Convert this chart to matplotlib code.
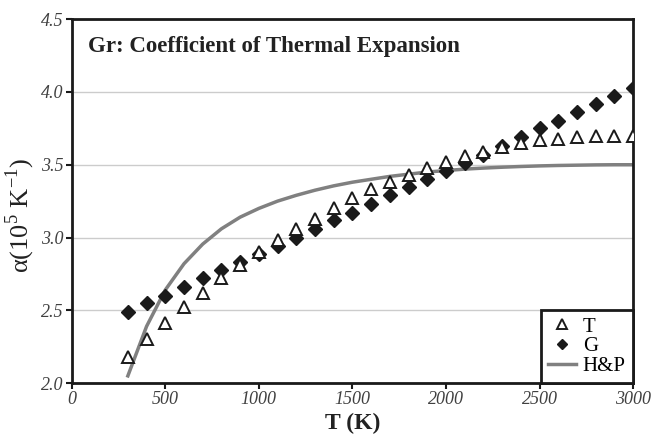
import matplotlib
matplotlib.use("Agg")
import matplotlib.pyplot as plt

# temperature grid (K)
temps = [300, 400, 500, 600, 700, 800, 900, 1000, 1100, 1200, 1300, 1400, 1500, 1600,
         1700, 1800, 1900, 2000, 2100, 2200, 2300, 2400, 2500, 2600, 2700, 2800, 2900, 3000]

# T series (open triangles)
alpha_T = [2.18, 2.30, 2.41, 2.52, 2.62, 2.72, 2.81, 2.90, 2.98, 3.06, 3.13, 3.20, 3.27, 3.33,
           3.38, 3.43, 3.48, 3.52, 3.56, 3.59, 3.62, 3.65, 3.67, 3.68, 3.69, 3.70, 3.70, 3.70]

# G series (filled diamonds)
alpha_G = [2.49, 2.55, 2.60, 2.66, 2.72, 2.78, 2.83, 2.89, 2.94, 3.00, 3.06, 3.12, 3.17, 3.23,
           3.29, 3.35, 3.40, 3.46, 3.51, 3.57, 3.63, 3.69, 3.75, 3.80, 3.86, 3.92, 3.97, 4.03]

# H&P curve
alpha_HP = [2.05, 2.39, 2.64, 2.82, 2.955, 3.06, 3.14, 3.20, 3.25, 3.29, 3.325, 3.355, 3.38, 3.40,
            3.42, 3.435, 3.45, 3.46, 3.47, 3.477, 3.483, 3.488, 3.492, 3.495, 3.497, 3.499, 3.50, 3.50]

xticks = [0, 500, 1000, 1500, 2000, 2500, 3000]
yticks = [2.0, 2.5, 3.0, 3.5, 4.0, 4.5]

serif = ["Liberation Serif", "DejaVu Serif"]
plt.rcParams["font.family"] = serif
plt.rcParams["mathtext.fontset"] = "custom"
plt.rcParams["mathtext.rm"] = "Liberation Serif"

fig = plt.figure(figsize=(6.52, 4.45), dpi=100)
ax = fig.add_axes([0.110, 0.139, 0.861, 0.818])

ax.plot(temps, alpha_HP, color="#808080", lw=2.5, label="H&P", zorder=2)
ax.plot(temps, alpha_G, ls="none", marker="D", ms=7, color="#1a1a1a", label="G", zorder=3)
ax.plot(temps, alpha_T, ls="none", marker="^", ms=9, mfc="white", mec="#1a1a1a", mew=1.4,
        label="T", zorder=4)

ax.set_xlim(0, 3000)
ax.set_ylim(2.0, 4.5)
ax.set_xticks(xticks)
ax.set_yticks(yticks)
ax.set_xticklabels([str(v) for v in xticks], fontstyle="italic", fontsize=13, color="#404040")
ax.set_yticklabels(["%.1f" % v for v in yticks], fontstyle="italic", fontsize=13, color="#404040")
ax.tick_params(direction="out", length=4, width=1.5, color="#1a1a1a", pad=2)
ax.grid(axis="y", color="#cccccc", lw=1)
ax.set_axisbelow(True)
for s in ax.spines.values():
    s.set_linewidth(2)
    s.set_color("#1a1a1a")

ax.set_xlabel("T (K)", fontsize=17, fontweight="bold", color="#222222", labelpad=3)
ax.set_ylabel(r"α(10$^5$ K$^{-1}$)", fontsize=19, color="#222222")
ax.yaxis.set_label_coords(-0.062, 0.46)

ax.text(0.029, 0.925, "Gr: Coefficient of Thermal Expansion", transform=ax.transAxes,
        fontsize=16.5, fontweight="bold", color="#222222", va="center", ha="left")

h, l = ax.get_legend_handles_labels()
order = [2, 1, 0]
leg = ax.legend([h[i] for i in order], [l[i] for i in order], loc="lower right",
                bbox_to_anchor=(1.0, 0.0), borderaxespad=0, fancybox=False, framealpha=1,
                edgecolor="#1a1a1a", fontsize=15, handlelength=1.3, handletextpad=0.35,
                labelspacing=0.0, borderpad=0.35, markerscale=0.75)
leg.get_frame().set_linewidth(2)

fig.savefig("out.png", dpi=100)
